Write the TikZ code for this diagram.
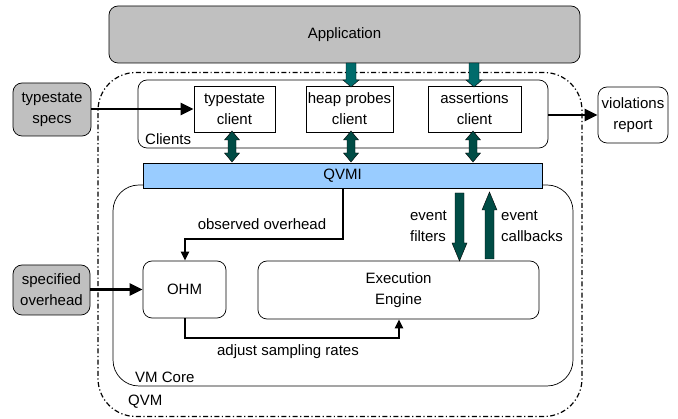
\documentclass[tikz,border=0pt]{standalone}
\usepackage{fontspec}
\setmainfont{Liberation Sans}
\usetikzlibrary{arrows.meta,calc}
\definecolor{boxgray}{HTML}{C0C0C0}
\definecolor{qblue}{HTML}{99CCFF}
\definecolor{tealA}{HTML}{006B6B}
\definecolor{tealB}{HTML}{004C45}
\tikzset{
  base/.style={draw=black, line width=0.7pt, align=center, inner sep=0pt, font=\fontsize{15}{21}\selectfont},
  roundbox/.style={base, rounded corners=9pt},
  graybox/.style={roundbox, fill=boxgray},
  sqbox/.style={base, fill=white},
  conn/.style={line width=2.6pt, -{Triangle[length=13pt,width=12pt]}},
  thinconn/.style={line width=2pt, -{Triangle[length=9pt,width=8pt]}},
  lbl/.style={font=\fontsize{15}{21}\selectfont, inner sep=0pt, align=left},
  blk/.style={draw=black, line width=0.4pt},
}
% vertical block arrow: color, x, tail y, tip y, shaft half width, head half width, head length
\newcommand\vblk[7]{%
  \pgfmathsetmacro\dirs{ifthenelse(#4>#3,1,-1)}%
  \filldraw[blk, fill=#1] (#2-#5,#3) -- (#2-#5,#4-\dirs*#7) -- (#2-#6,#4-\dirs*#7) -- (#2,#4)
     -- (#2+#6,#4-\dirs*#7) -- (#2+#5,#4-\dirs*#7) -- (#2+#5,#3) -- cycle;}
% double block arrow: color, x, y top tip, y bottom tip
\newcommand\dblk[4]{%
  \filldraw[blk, fill=#1] (#2,#3) -- (#2+7.5,#3+9) -- (#2+4,#3+9) -- (#2+4,#4-9) -- (#2+7.5,#4-9) -- (#2,#4)
     -- (#2-7.5,#4-9) -- (#2-4,#4-9) -- (#2-4,#3+9) -- (#2-7.5,#3+9) -- cycle;}
\begin{document}
\begin{tikzpicture}[x=1pt,y=-1pt]
\useasboundingbox (0,0) rectangle (678,419);
% QVM container
\node[draw=black, line width=1.2pt, dash pattern=on 5pt off 2.5pt on 1.2pt off 2.5pt, rounded corners=38pt,
      minimum width=484pt, minimum height=344pt, inner sep=0pt] (qvm) at (340,244.5) {};
\node[lbl, anchor=west] (qvml) at (128,402) {QVM};
% Application
\node[graybox, minimum width=471pt, minimum height=57pt] (app) at (344.5,34.5) {Application};
% Clients
\node[roundbox, fill=white, minimum width=410pt, minimum height=68pt] (clients) at (343,114) {};
\node[lbl, anchor=south west] (clientsl) at (145,145) {Clients};
\node[sqbox, minimum width=81pt, minimum height=46pt] (tsc) at (234.5,109) {typestate\\client};
\node[sqbox, minimum width=87pt, minimum height=46pt] (hpc) at (349.5,109) {heap probes\\client};
\node[sqbox, minimum width=93pt, minimum height=46pt] (asc) at (474.5,109) {assertions\\client};
% VM Core
\node[roundbox, rounded corners=26pt, fill=white, minimum width=460pt, minimum height=201pt] (vmcore) at (343,285.5) {};
\node[lbl, anchor=south west] (vmcorel) at (135,383) {VM Core};
% QVMI
\node[base, fill=qblue, minimum width=399pt, minimum height=25pt] (qvmi) at (342.5,175.5) {QVMI};
% outside boxes
\node[graybox, minimum width=78pt, minimum height=53pt] (tspecs) at (52,109.5) {typestate\\specs};
\node[roundbox, fill=white, minimum width=70pt, minimum height=56pt] (viol) at (633,115) {violations\\report};
\node[graybox, minimum width=77pt, minimum height=50pt] (specov) at (51.5,290) {specified\\overhead};
% VM core inner
\node[roundbox, fill=white, minimum width=83pt, minimum height=57pt] (ohm) at (184.5,289.5) {OHM};
\node[roundbox, fill=white, minimum width=281pt, minimum height=58pt] (engine) at (398.5,290) {Execution\\Engine};
% connectors
\draw[conn] (tspecs.east |- tsc.west) -- (tsc.west);
\draw[conn] (clients.east |- viol.west) -- (viol.west);
\draw[conn] (specov.east |- ohm.west) -- (ohm.west);
\coordinate (oo1) at (343,239);
\coordinate (oo2) at (185,239);
\draw[thinconn] (qvmi.south -| oo1) -- (oo1) -- (oo2) -- (ohm.north -| oo2);
\node[lbl, anchor=south] (ool) at (262,230) {observed overhead};
\coordinate (as1) at (185,338);
\coordinate (as2) at (399,338);
\draw[thinconn] (ohm.south -| as1) -- (as1) -- (as2) -- (engine.south -| as2);
\node[lbl, anchor=north] (asl) at (288,344) {adjust sampling rates};
% block arrows
\vblk{tealA}{351}{63}{87}{5}{8}{7}
\vblk{tealA}{474}{63}{87}{5}{8}{7}
\dblk{tealB}{232}{131}{162}
\dblk{tealB}{351}{131}{162}
\dblk{tealB}{473}{131}{162}
\vblk{tealB}{459.5}{193}{261}{4.5}{7.5}{18}
\vblk{tealB}{489.5}{259}{192}{4.5}{7.5}{18}
\node[lbl, anchor=east] (efl) at (447,226) {event\\filters};
\node[lbl, anchor=west] (ecl) at (501,226) {event\\callbacks};
\end{tikzpicture}
\end{document}
